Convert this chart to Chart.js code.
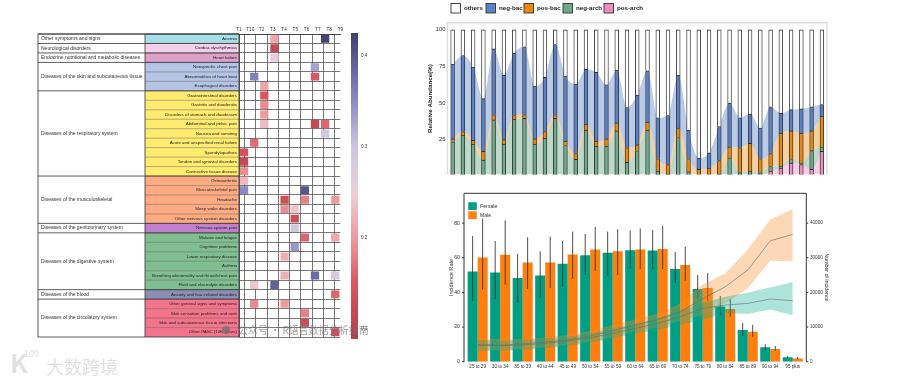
<!DOCTYPE html>
<html>
<head>
<meta charset="utf-8">
<title>chart</title>
<script src="https://cdn.jsdelivr.net/npm/chart.js@4"></script>
<style>
    html, body { margin: 0; padding: 0; width: 900px; height: 383px; background: #fff; overflow: hidden; }
    canvas { position: absolute; filter: blur(0.3px); }
    .mark { position: absolute; white-space: nowrap; font-family: "Noto Sans CJK SC", sans-serif; }
</style>
</head>
<body>
<canvas id="heat-chart" style="left:0;top:0"></canvas>
<canvas id="scale-chart" style="left:345px;top:0"></canvas>
<canvas id="stack-chart" style="left:420px;top:0"></canvas>
<canvas id="rate-chart" style="left:430px;top:188px"></canvas>
<div class="mark" style="left:222px;top:326px;width:8px;height:8px;border-radius:4px;background:rgba(110,110,110,.7)"></div>
<div class="mark" style="left:238px;top:322px;font-size:10px;line-height:16px;color:rgba(120,120,120,.7)">公众号 · R语言数据分析指南</div>
<div class="mark" style="left:10px;top:348px;font-size:26px;line-height:28px;color:#e2e2e2;font-weight:bold">K</div>
<div class="mark" style="left:24px;top:348px;font-size:9px;line-height:11px;color:#e2e2e2">100</div>
<div class="mark" style="left:46px;top:355px;font-size:18px;line-height:22px;color:#e2e2e2">大数跨境</div>
<script>
// --- Heatmap data ---
const heatCols = ['T1', 'T10', 'T2', 'T3', 'T4', 'T5', 'T6', 'T7', 'T8', 'T9'];
const heatRows = ['Anemia', 'Cardiac dysrhythmias', 'Heart failure', 'Nonspecific chest pain', 'Abnormalities of heart beat', 'Esophageal disorders', 'Gastrointestinal disorders', 'Gastritis and duodenitis', 'Disorders of stomach and duodenum', 'Abdominal and pelvic pain', 'Nausea and vomiting', 'Acute and unspecified renal failure', 'Spondylopathies', 'Tendon and synovial disorders', 'Connective tissue disease', 'Osteoarthritis', 'Musculoskeletal pain', 'Headache', 'Sleep wake disorders', 'Other nervous system disorders', 'Nervous system pain', 'Malaise and fatigue', 'Cognitive problems', 'Lower respiratory disease', 'Asthma', 'Breathing abnormality and throat/chest pain', 'Fluid and electrolyte disorders', 'Anxiety and fear-related disorders', 'Other general signs and symptoms', 'Skin sensation problems and rash', 'Skin and subcutaneous tissue infections', 'Other PASC (10K Years)'];
const rowColors = ['#a6e0e6', '#f3cfe8', '#dda0c8', '#b4c4e4', '#b4c4e4', '#b4c4e4', '#ffeb70', '#ffeb70', '#ffeb70', '#ffeb70', '#ffeb70', '#ffeb70', '#ffeb70', '#ffeb70', '#ffeb70', '#ffab82', '#ffab82', '#ffab82', '#ffab82', '#ffab82', '#bf80cc', '#80be90', '#80be90', '#80be90', '#80be90', '#80be90', '#80be90', '#8c8fb5', '#f4748c', '#f4748c', '#f4748c', '#f4748c'];
const groupNames = ['Other symptoms and signs', 'Neurological disorders', 'Endocrine,nutritional and metabolic diseases', 'Diseases of the skin and subcutaneous tissue', 'Diseases of the respiratory system', 'Diseases of the musculoskeletal', 'Diseases of the genitourinary system', 'Diseases of the digestive system', 'Diseases of the blood', 'Diseases of the circulatory system'];
const groupSizes = [1, 1, 1, 3, 9, 5, 1, 6, 1, 4];
const cellRow = [0, 0, 1, 2, 3, 4, 4, 5, 6, 7, 8, 9, 9, 9, 10, 11, 12, 13, 14, 15, 16, 16, 17, 17, 17, 18, 18, 19, 20, 21, 21, 22, 23, 25, 25, 25, 26, 26, 27, 28, 28, 29, 30, 31];
const cellCol = [3, 8, 3, 3, 7, 1, 7, 2, 2, 2, 2, 2, 7, 8, 8, 1, 0, 0, 0, 0, 0, 6, 4, 6, 9, 4, 5, 5, 5, 6, 9, 5, 4, 4, 7, 9, 1, 3, 9, 1, 4, 6, 6, 9];
const cellValue = [0.21, 0.42, 0.12, 0.26, 0.33, 0.36, 0.15, 0.21, 0.15, 0.19, 0.2, 0.23, 0.12, 0.16, 0.29, 0.165, 0.14, 0.12, 0.19, 0.23, 0.35, 0.4, 0.13, 0.18, 0.2, 0.19, 0.24, 0.13, 0.29, 0.16, 0.21, 0.34, 0.22, 0.22, 0.38, 0.28, 0.24, 0.39, 0.16, 0.19, 0.2, 0.18, 0.13, 0.13];
const scaleTicks = [0.1, 0.2, 0.3, 0.4];

// --- Stacked bar data ---
const sampleNames = Array.from({ length: 37 }, (_, i) => 'S' + (i + 1));
const posArch = [0, 0, 0, 0, 0, 0, 0, 0, 0, 0, 0, 0, 0, 0, 0, 0, 0, 0, 0, 0, 0, 0, 0, 0, 0, 0, 0, 0, 0, 0, 0, 3.5, 5.5, 9, 8, 4.7, 17];
const negArch = [23.5, 28, 22, 11, 38.5, 22, 39, 39.5, 22, 26, 39.5, 21, 11.5, 31.5, 20.5, 20.5, 31, 9.5, 17.4, 31.5, 3.5, 1.5, 26.5, 3, 1, 1, 1.5, 12.5, 2.5, 3.5, 2.5, 3.2, 1.5, 3, 1, 12.8, 3];
const posBac = [2, 2.5, 2.5, 6, 3.5, 3, 2.5, 2.5, 3.5, 4.5, 2.5, 3, 4, 4, 3.5, 5, 5.5, 10, 4, 5.5, 8.5, 6.5, 6.5, 9, 3.7, 4.5, 9.2, 7.5, 17, 19, 9.5, 8.8, 22.5, 19, 20.5, 13.5, 21];
const negBac = [51, 52, 50, 36, 45, 44, 42.5, 46.5, 36, 37, 48, 44.5, 47.5, 37.5, 47, 37, 36, 27.5, 34, 35, 28, 33.5, 36, 19.5, 7.8, 10.5, 23.3, 30, 20.5, 20, 21, 32, 13.5, 14.5, 16.5, 16.5, 8];
const others = [23.5, 17.5, 25.5, 47, 13, 31, 16, 11.5, 38.5, 32.5, 10, 31.5, 37, 27, 29, 37.5, 27.5, 53, 44.6, 28, 60, 58.5, 31, 68.5, 87.5, 84, 66, 50, 60, 57.5, 67, 52.5, 57, 54.5, 54, 52.5, 51];
const abundanceTicks = [25, 50, 75, 100];

// --- Incidence data ---
const ageGroups = ['25 to 29', '30 to 34', '35 to 39', '40 to 44', '45 to 49', '50 to 54', '55 to 59', '60 to 64', '65 to 69', '70 to 74', '75 to 79', '80 to 84', '85 to 89', '90 to 94', '95 plus'];
const femaleRate = [52.1, 51.5, 48.3, 49.8, 56.5, 61.5, 62.9, 64.4, 64.2, 53.5, 41.9, 31.9, 18.3, 8.3, 2.5];
const maleRate = [60.2, 61.7, 57.3, 57.3, 61.9, 64.8, 63.8, 64.8, 65, 55.8, 42.5, 30.4, 17.3, 7.3, 1.9];
const femaleRateLow = [35.2, 36, 34, 36.9, 43.3, 50.2, 49.4, 53.7, 53.3, 45.6, 37, 26.9, 15, 6.7, 1.5];
const femaleRateHigh = [72.5, 69.6, 62.1, 63.8, 69.6, 73.7, 75.2, 75.8, 76, 63.3, 50, 37.9, 22.5, 10, 3.3];
const maleRateLow = [41.7, 44.6, 41.9, 42.5, 47.7, 52.3, 50, 53.3, 53.3, 46.7, 35.2, 26, 14.4, 6.2, 1.2];
const maleRateHigh = [82.7, 81.7, 71.9, 72.3, 75.2, 77.7, 76.5, 76.9, 78.3, 66.5, 51.2, 36.2, 21.3, 9, 2.7];
const rateTicks = [0, 20, 40, 60, 80];
const femaleCount = [4710, 4620, 4810, 5290, 5960, 6920, 8170, 9620, 11060, 12980, 15380, 16350, 16830, 18080, 17600];
const femaleCountLow = [3170, 3170, 3370, 3850, 4520, 5480, 6730, 8170, 9130, 10580, 12020, 14130, 13750, 15100, 13370];
const femaleCountHigh = [6250, 6060, 6250, 6730, 7210, 8170, 9620, 10870, 12500, 14710, 17020, 18750, 19900, 21440, 22980];
const maleCount = [5000, 4810, 5100, 5670, 6250, 7400, 8940, 10580, 12200, 14420, 18170, 21630, 26440, 34900, 36730];
const maleCountLow = [3170, 3370, 3650, 4130, 4810, 5770, 7020, 8850, 9900, 11830, 13460, 16830, 21150, 29130, 28940];
const maleCountHigh = [6730, 6540, 6540, 7020, 7690, 8850, 10580, 12200, 13940, 16830, 22300, 25480, 32400, 41060, 44040];
const countTicks = [0, 10000, 20000, 30000, 40000];

const FONT = '"Liberation Sans", Arial, sans-serif';
const TEXT = '#333';
Chart.defaults.font.family = FONT;
Chart.defaults.animation = false;
Chart.defaults.responsive = false;
Chart.defaults.plugins.legend.display = false;
Chart.defaults.plugins.tooltip.enabled = false;

// --- Color map of the heatmap ---
const STOPS = [
    [0.089, [178, 60, 72]],
    [0.15, [217, 88, 96]],
    [0.2, [238, 154, 160]],
    [0.25, [236, 208, 216]],
    [0.3, [202, 198, 224]],
    [0.35, [140, 138, 196]],
    [0.425, [62, 62, 112]]
];

function heatColor(v) {
    for (let i = 1; i < STOPS.length; i++) {
        if (v <= STOPS[i][0]) {
            const t = (v - STOPS[i - 1][0]) / (STOPS[i][0] - STOPS[i - 1][0]);
            const c = STOPS[i][1].map((b, k) => Math.round(STOPS[i - 1][1][k] + (b - STOPS[i - 1][1][k]) * t));
            return `rgb(${c.join(',')})`;
        }
    }
    return `rgb(${STOPS[STOPS.length - 1][1].join(',')})`;
}

function setSize(id, w, h) {
    const canvas = document.getElementById(id);
    canvas.width = w;
    canvas.height = h;
    return canvas.getContext('2d');
}

// --- Table part of the heatmap, drawn from the row scale ---
const tablePlugin = {
    id: 'table',
    beforeDraw(chart) {
        const { ctx, chartArea: area, scales } = chart;
        const TABLE_LEFT = 38, GROUP_RIGHT = 145;
        const step = scales.y.getPixelForValue(1) - scales.y.getPixelForValue(0);
        ctx.save();
        heatRows.forEach((row, i) => {
            const top = scales.y.getPixelForValue(i) - step / 2;
            ctx.fillStyle = rowColors[i];
            ctx.fillRect(GROUP_RIGHT, top, area.left - GROUP_RIGHT, step);
            ctx.strokeStyle = 'rgba(60,60,60,.55)';
            ctx.lineWidth = 0.7;
            ctx.beginPath();
            ctx.moveTo(GROUP_RIGHT, top);
            ctx.lineTo(area.left, top);
            ctx.stroke();
        });
        let start = 0;
        ctx.font = `5px ${FONT}`;
        ctx.textBaseline = 'middle';
        groupNames.forEach((name, i) => {
            const top = scales.y.getPixelForValue(start) - step / 2;
            const h = groupSizes[i] * step;
            ctx.fillStyle = TEXT;
            ctx.fillText(name, TABLE_LEFT + 3, top + h / 2, GROUP_RIGHT - TABLE_LEFT - 3);
            ctx.strokeStyle = '#333';
            ctx.lineWidth = 0.8;
            ctx.beginPath();
            ctx.moveTo(TABLE_LEFT, top);
            ctx.lineTo(area.left, top);
            ctx.stroke();
            start += groupSizes[i];
        });
        ctx.strokeStyle = '#333';
        ctx.lineWidth = 0.8;
        ctx.strokeRect(TABLE_LEFT, area.top, area.left - TABLE_LEFT, area.bottom - area.top);
        ctx.beginPath();
        ctx.moveTo(GROUP_RIGHT, area.top);
        ctx.lineTo(GROUP_RIGHT, area.bottom);
        ctx.stroke();
        ctx.restore();
    }
};

// --- Heatmap ---
new Chart(setSize('heat-chart', 345, 383), {
    type: 'bar',
    data: {
        labels: heatRows,
        datasets: [{
            xAxisID: 'cell',
            data: cellValue.map((v, i) => ({ x: [cellCol[i] + 0.09, cellCol[i] + 0.91], y: heatRows[cellRow[i]] })),
            backgroundColor: cellValue.map(heatColor),
            barPercentage: 0.84,
            categoryPercentage: 1,
            grouped: false
        }]
    },
    options: {
        indexAxis: 'y',
        layout: { padding: { right: 2.5, bottom: 46 } },
        scales: {
            cell: { axis: 'x', type: 'linear', min: 0, max: 10, display: false },
            x: {
                type: 'category', labels: heatCols, position: 'top',
                afterFit(s) { s.height = 34; },
                grid: { color: '#555', lineWidth: 0.8, offset: true, drawTicks: false },
                border: { color: '#333', width: 0.8 },
                ticks: { font: { size: 4.6 }, color: TEXT, padding: 2, maxRotation: 0, autoSkip: false }
            },
            y: {
                type: 'category',
                afterFit(s) { s.width = 239; },
                grid: { color: '#555', lineWidth: 0.8, offset: true, drawTicks: false },
                border: { color: '#333', width: 0.8 },
                ticks: { font: { size: 4.4 }, color: '#222', padding: 2, autoSkip: false }
            }
        }
    },
    plugins: [tablePlugin]
});

// --- Color scale ---
new Chart(setSize('scale-chart', 40, 383), {
    type: 'bar',
    data: {
        labels: ['scale'],
        datasets: [{
            data: [[0.089, 0.425]],
            barPercentage: 1,
            categoryPercentage: 1,
            backgroundColor(c) {
                const area = c.chart.chartArea;
                if (!area) return '#ccc';
                const y = c.chart.scales.y;
                const g = c.chart.ctx.createLinearGradient(0, area.bottom, 0, area.top);
                STOPS.forEach(s => g.addColorStop((s[0] - y.min) / (y.max - y.min), heatColor(s[0])));
                return g;
            }
        }]
    },
    options: {
        layout: { padding: { left: 6, top: 33, bottom: 44 } },
        scales: {
            x: { display: false },
            y: {
                position: 'right', min: 0.089, max: 0.425,
                afterFit(s) { s.width = 27; },
                afterBuildTicks(s) { s.ticks = scaleTicks.map(v => ({ value: v })); },
                grid: { display: false, drawTicks: false },
                border: { display: false },
                ticks: { font: { size: 4.6 }, color: TEXT, padding: 3, callback: v => v.toFixed(1) }
            }
        }
    }
});

// --- Stacked bars with flows ---
const STACK_SERIES = [
    { label: 'pos-arch', values: posArch, color: '#f08cc0', flow: 'rgba(240,140,192,.42)' },
    { label: 'neg-arch', values: negArch, color: '#6fa88a', flow: 'rgba(111,168,138,.45)' },
    { label: 'pos-bac', values: posBac, color: '#e88a10', flow: 'rgba(232,138,16,.4)' },
    { label: 'neg-bac', values: negBac, color: '#5b82c8', flow: 'rgba(91,130,200,.42)' },
    { label: 'others', values: others, color: '#ffffff', flow: null }
];

const stackFrame = {
    id: 'stackFrame',
    beforeDatasetsDraw(chart) {
        const { ctx, chartArea: area } = chart;
        ctx.save();
        ctx.strokeStyle = '#ddd';
        ctx.lineWidth = 1.4;
        ctx.beginPath();
        ctx.moveTo(area.left, area.bottom);
        ctx.lineTo(area.left, area.top);
        ctx.lineTo(area.right, area.top);
        ctx.lineTo(area.right, area.bottom);
        ctx.stroke();
        ctx.restore();
    },
    afterDraw(chart) {
        const ctx = chart.ctx;
        const names = ['others', 'neg-bac', 'pos-bac', 'neg-arch', 'pos-arch'];
        const xs = [31, 66, 104, 143, 184];
        ctx.save();
        ctx.font = `bold 6.2px ${FONT}`;
        ctx.textBaseline = 'middle';
        names.forEach((name, i) => {
            const s = STACK_SERIES.find(d => d.label === name);
            ctx.fillStyle = s.color;
            ctx.strokeStyle = '#333';
            ctx.lineWidth = 0.9;
            ctx.fillRect(xs[i], 3.5, 9.5, 9.5);
            ctx.strokeRect(xs[i], 3.5, 9.5, 9.5);
            ctx.fillStyle = '#222';
            ctx.fillText(name, xs[i] + 13, 8.3);
        });
        ctx.restore();
    }
};

const flowSets = STACK_SERIES.filter(s => s.flow).map((s, i) => ({
    type: 'line',
    data: s.values,
    order: 2,
    borderWidth: 0,
    pointRadius: 0,
    cubicInterpolationMode: 'monotone',
    backgroundColor: s.flow,
    fill: i === 0 ? 'origin' : '-1'
}));
const barSets = STACK_SERIES.map(s => ({
    type: 'bar',
    data: s.values,
    order: 1,
    backgroundColor: s.color,
    borderColor: '#333',
    borderWidth: 0.9,
    barThickness: 3.8
}));

new Chart(setSize('stack-chart', 420, 180), {
    data: { labels: sampleNames, datasets: flowSets.concat(barSets) },
    options: {
        layout: { padding: { top: 22.7, right: 13, bottom: 2.5 } },
        scales: {
            x: { stacked: true, display: false },
            y: {
                stacked: true, min: 1.2, max: 104.9,
                afterFit(s) { s.width = 27.5; },
                afterBuildTicks(s) { s.ticks = abundanceTicks.map(v => ({ value: v })); },
                grid: { display: false, drawTicks: false },
                border: { display: false },
                title: { display: true, text: 'Relative Abundance(%)', color: '#222', font: { size: 6.2, weight: 'bold' }, padding: { top: 7, bottom: 0 } },
                ticks: { font: { size: 5.8 }, color: TEXT, padding: 2 }
            }
        }
    },
    plugins: [stackFrame]
});

// --- Incidence bars with error bars and bands ---
const rateFrame = {
    id: 'rateFrame',
    afterDraw(chart) {
        const { ctx, chartArea: area, scales } = chart;
        const left = area.left - 2.4, right = area.right + 2.3;
        ctx.save();
        ctx.strokeStyle = '#333';
        ctx.lineWidth = 1;
        ctx.beginPath();
        ctx.moveTo(left, area.bottom);
        ctx.lineTo(left, area.top);
        ctx.lineTo(right, area.top);
        ctx.lineTo(right, area.bottom);
        scales.y.ticks.forEach(t => {
            const y = scales.y.getPixelForValue(t.value);
            ctx.moveTo(left - 2, y);
            ctx.lineTo(left, y);
        });
        scales.yCount.ticks.forEach(t => {
            const y = scales.yCount.getPixelForValue(t.value);
            ctx.moveTo(right, y);
            ctx.lineTo(right + 2, y);
        });
        ctx.stroke();
        ctx.font = `5.2px ${FONT}`;
        ctx.textBaseline = 'middle';
        [['Female', '#009e82', 14.3], ['Male', '#ff7f0e', 23.3]].forEach(([name, color, y]) => {
            ctx.fillStyle = color;
            ctx.fillRect(left + 4.3, y, 8.5, 7.8);
            ctx.fillStyle = TEXT;
            ctx.fillText(name, left + 16, y + 3.9);
        });
        ctx.restore();
    }
};

function rateBars(values, stack, color) {
    return { type: 'bar', data: values, stack, order: 5, backgroundColor: color, barPercentage: 1, categoryPercentage: 0.89 };
}
function errorBars(low, high, stack) {
    return { type: 'bar', data: low.map((v, i) => [v, high[i]]), stack, order: 4, backgroundColor: '#3a3a3a', maxBarThickness: 0.9, barPercentage: 1, categoryPercentage: 0.89 };
}
function bandLine(values, color, fill) {
    return { type: 'line', data: values, yAxisID: 'yCount', order: 3, borderWidth: 0, pointRadius: 0, backgroundColor: color, fill };
}
function countLine(values) {
    return { type: 'line', data: values, yAxisID: 'yCount', order: 2, borderColor: 'rgba(110,110,110,.9)', borderWidth: 0.7, pointRadius: 0, fill: false };
}

new Chart(setSize('rate-chart', 410, 195), {
    data: {
        labels: ageGroups,
        datasets: [
            rateBars(femaleRate, 'F', '#009e82'),
            rateBars(maleRate, 'M', '#ff7f0e'),
            errorBars(femaleRateLow, femaleRateHigh, 'F'),
            errorBars(maleRateLow, maleRateHigh, 'M'),
            bandLine(femaleCountLow, 'rgba(0,170,140,.32)', false),
            bandLine(femaleCountHigh, 'rgba(0,170,140,.32)', '-1'),
            bandLine(maleCountLow, 'rgba(250,140,40,.34)', false),
            bandLine(maleCountHigh, 'rgba(250,140,40,.34)', '-1'),
            countLine(femaleCount),
            countLine(maleCount)
        ]
    },
    options: {
        layout: { padding: { top: 5.3 } },
        scales: {
            x: {
                afterFit(s) { s.height = 21.3; },
                grid: { display: false, drawTicks: false },
                border: { display: false },
                ticks: { font: { size: 4.6 }, color: TEXT, padding: 2.5, maxRotation: 0, autoSkip: false }
            },
            y: {
                stacked: false, min: 0, max: 97.2,
                afterFit(s) { s.width = 36.4; },
                afterBuildTicks(s) { s.ticks = rateTicks.map(v => ({ value: v })); },
                // tickLength rather than tick padding: padding would push the plot top down
                grid: { display: false, drawTicks: true, tickLength: 5.4 },
                border: { display: false },
                title: { display: true, text: 'Incidence Rate', color: TEXT, font: { size: 5.6 }, padding: { top: 18, bottom: 0 } },
                ticks: { font: { size: 5.2 }, color: TEXT, padding: 1 }
            },
            yCount: {
                position: 'right', min: 0, max: 48600,
                afterFit(s) { s.width = 36; },
                afterBuildTicks(s) { s.ticks = countTicks.map(v => ({ value: v })); },
                grid: { display: false, drawTicks: true, tickLength: 5 },
                border: { display: false },
                title: { display: true, text: 'Number of Incidence', color: TEXT, font: { size: 5.2 }, padding: { top: 10, bottom: 0 } },
                ticks: { font: { size: 4.6 }, color: TEXT, padding: 1, callback: v => String(v) }
            }
        }
    },
    plugins: [rateFrame]
});
</script>
</body>
</html>
